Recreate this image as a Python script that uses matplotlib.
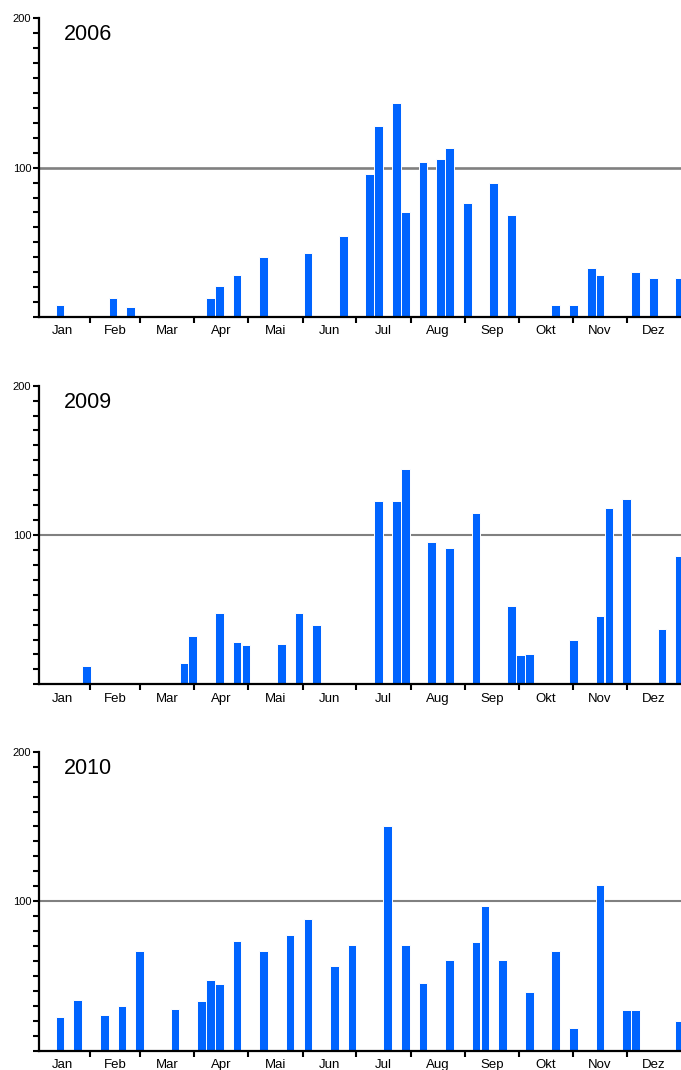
import matplotlib
matplotlib.use('Agg')
import matplotlib.pyplot as plt
from matplotlib.ticker import MultipleLocator, FixedLocator

plt.rcParams['font.family'] = ['Liberation Sans', 'DejaVu Sans']

months = ['Jan', 'Feb', 'Mar', 'Apr', 'Mai', 'Jun', 'Jul', 'Aug', 'Sep', 'Okt', 'Nov', 'Dez']
month_start = [0, 31, 59, 90, 120, 151, 181, 212, 243, 273, 304, 334, 365]

# 5-day periods (pentad index 0..72) and values per year
p2006 = [2, 8, 10, 19, 20, 22, 25, 30, 34, 37, 38, 40, 41, 43, 45, 46, 48, 51, 53, 55, 58, 60, 62, 63, 67, 69, 72]
v2006 = [8, 13, 7, 13, 21, 28, 40, 43, 54, 96, 128, 143, 70, 104, 106, 113, 76, 90, 68, 0.5, 8, 8, 33, 28, 30, 26, 26]

p2009 = [5, 16, 17, 20, 22, 23, 27, 29, 31, 38, 40, 41, 44, 46, 49, 53, 54, 55, 60, 63, 64, 66, 70, 72]
v2009 = [12.5, 14, 32.5, 48, 28, 26.5, 27, 47.5, 40, 123, 123, 144, 95, 91, 115, 52.5, 19.5, 20, 30, 46, 118, 124, 37, 86]

p2010 = [2, 4, 7, 9, 11, 15, 18, 19, 20, 22, 25, 28, 30, 33, 35, 39, 41, 43, 46, 49, 50, 52, 55, 58, 60, 63, 66, 67, 72]
v2010 = [22.5, 34, 24, 30, 67, 28, 33.5, 47.5, 44.5, 73.5, 67, 77.5, 88, 56.5, 70.5, 150.5, 71, 45, 60.5, 72.5, 96.5, 61, 39.5, 67, 15, 111, 27, 27, 20]

years = ['2006', '2009', '2010']
data = [(p2006, v2006), (p2009, v2009), (p2010, v2010)]

W, H = 681, 1070
fig = plt.figure(figsize=(W / 100, H / 100), dpi=100)

# pixel positions of each panel (y of 200 line, y of 0 line)
panels = [(18.3, 317), (385.7, 684.3), (751.7, 1050.7)]
left_px, right_px = 39, 681
line_w = [1.9, 1.5, 1.5]

for k, (year, (pent, vals)) in enumerate(zip(years, data)):
    top_px, bot_px = panels[k]
    ax = fig.add_axes([left_px / W, (H - bot_px) / H,
                       (right_px - left_px) / W, (bot_px - top_px) / H])
    days = [5 * p + 4 for p in pent]
    ax.axhline(100, color='#808080', lw=line_w[k], zorder=1)
    ax.bar(days, vals, width=4.9, color='#0064ff', edgecolor='white',
           linewidth=0.7, zorder=2)
    ax.set_xlim(2.2, 364.7)
    ax.set_ylim(0, 200)

    for s in ['top', 'right']:
        ax.spines[s].set_visible(False)
    for s in ['left', 'bottom']:
        ax.spines[s].set_linewidth(1.6)
        ax.spines[s].set_zorder(3)

    ax.yaxis.set_major_locator(FixedLocator([0, 100, 200]))
    ax.set_yticklabels(['', '100', '200'])
    ax.yaxis.set_minor_locator(MultipleLocator(10))
    ax.tick_params(axis='y', which='both', length=4.5, width=1.5, pad=1, labelsize=8)

    ax.xaxis.set_major_locator(FixedLocator(month_start[:-1]))
    ax.xaxis.set_major_formatter(plt.NullFormatter())
    mids = [(a + b) / 2 for a, b in zip(month_start[:-1], month_start[1:])]
    ax.xaxis.set_minor_locator(FixedLocator(mids))
    ax.set_xticklabels(months, minor=True)
    ax.tick_params(axis='x', which='major', length=4, width=1.5)
    ax.tick_params(axis='x', which='minor', length=0, pad=6, labelsize=9.5)

    ax.text(16.5, 189, year, fontsize=15.5, va='center', ha='left')

fig.savefig('out.png', dpi=100)
